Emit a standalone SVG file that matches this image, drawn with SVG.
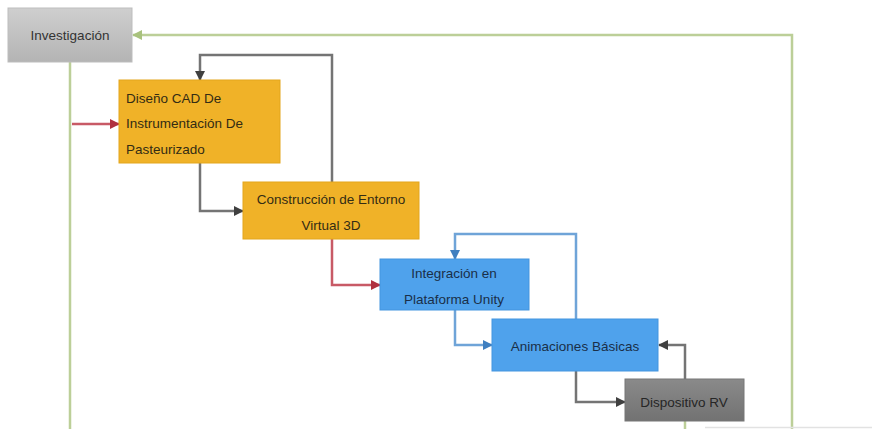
<svg xmlns="http://www.w3.org/2000/svg" width="872" height="429" viewBox="0 0 872 429">
<style>
  text { font-family: "Liberation Sans", "DejaVu Sans", sans-serif; font-size: 13.5px; fill: #332c14; }
  .c { text-anchor: middle; }
  .orange { fill: #f0b228; stroke: #e3a61c; stroke-width: 1; }
  .blue { fill: #4fa2ec; stroke: #4495df; stroke-width: 1; }
  .blue-t { fill: #1a2f48; }
  .lgray { fill: url(#gInv); stroke: #bdbdbd; stroke-width: 1; }
  .dgray { fill: url(#gDisp); stroke: #777; stroke-width: 1; }
  .dgray-t { fill: #262626; }
  .ln { fill: none; stroke-width: 2.5; }
  .green { stroke: #bccf98; }
  .red { stroke: #c85a66; marker-end: url(#aRed); }
  .gray { stroke: #747474; marker-end: url(#aGray); }
  .bl { stroke: #6fa4d8; marker-end: url(#aBlue); }
</style>
<defs>
  <linearGradient id="gInv" x1="0" y1="0" x2="0" y2="1">
    <stop offset="0" stop-color="#cfcfcf"/>
    <stop offset="1" stop-color="#b4b4b4"/>
  </linearGradient>
  <linearGradient id="gDisp" x1="0" y1="0" x2="0" y2="1">
    <stop offset="0" stop-color="#8a8a8a"/>
    <stop offset="1" stop-color="#727272"/>
  </linearGradient>
  <marker id="aRed" viewBox="0 0 10 10" refX="9" refY="5" markerWidth="4" markerHeight="4" orient="auto" markerUnits="strokeWidth">
    <path d="M0,0 L10,5 L0,10 z" fill="#b03040"/>
  </marker>
  <marker id="aGray" viewBox="0 0 10 10" refX="9" refY="5" markerWidth="4" markerHeight="4" orient="auto" markerUnits="strokeWidth">
    <path d="M0,0 L10,5 L0,10 z" fill="#404040"/>
  </marker>
  <marker id="aBlue" viewBox="0 0 10 10" refX="9" refY="5" markerWidth="4" markerHeight="4" orient="auto" markerUnits="strokeWidth">
    <path d="M0,0 L10,5 L0,10 z" fill="#3f7fc0"/>
  </marker>
  <marker id="aGreen" viewBox="0 0 10 10" refX="9" refY="5" markerWidth="4" markerHeight="4" orient="auto" markerUnits="strokeWidth">
    <path d="M0,0 L10,5 L0,10 z" fill="#a9c27e"/>
  </marker>
</defs>
<rect width="872" height="429" fill="#ffffff"/>

<g id="connectors">
  <path class="ln green" d="M70,62 V429"/>
  <path class="ln green" d="M792,429 V35 H133" marker-end="url(#aGreen)"/>
  <path class="ln green" d="M685,421 V429"/>
  <path d="M705,427.5 H872" stroke="#e2e2e2" stroke-width="1.5" fill="none"/>
  <path class="ln red" d="M72,124 H119"/>
  <path class="ln gray" d="M332,182 V55 H200 V80"/>
  <path class="ln gray" d="M200,163 V211 H243"/>
  <path class="ln red" d="M332,239 V285 H380"/>
  <path class="ln bl" d="M576,319 V234 H455 V259"/>
  <path class="ln bl" d="M455,310 V345 H492"/>
  <path class="ln gray" d="M576,371 V402 H625"/>
  <path class="ln gray" d="M685,379 V345 H659"/>
</g>

<g id="investigacion">
  <rect class="lgray" x="8" y="8" width="124" height="54"/>
  <text class="c" x="70" y="40" style="fill:#333333">Investigación</text>
</g>

<g id="diseno">
  <rect class="orange" x="119" y="80" width="161" height="83"/>
  <text x="126" y="103">Diseño CAD De</text>
  <text x="126" y="128">Instrumentación De</text>
  <text x="126" y="154">Pasteurizado</text>
</g>

<g id="construccion">
  <rect class="orange" x="243" y="182" width="176" height="57"/>
  <text class="c" x="331" y="204">Construcción de Entorno</text>
  <text class="c" x="331" y="230">Virtual 3D</text>
</g>

<g id="integracion">
  <rect class="blue" x="380" y="259" width="149" height="51"/>
  <text class="c blue-t" x="454" y="278">Integración en</text>
  <text class="c blue-t" x="454" y="304">Plataforma Unity</text>
</g>

<g id="animaciones">
  <rect class="blue" x="492" y="319" width="166" height="52"/>
  <text class="c blue-t" x="575" y="351">Animaciones Básicas</text>
</g>

<g id="dispositivo">
  <rect class="dgray" x="625" y="379" width="119" height="42"/>
  <text class="c dgray-t" x="684" y="407">Dispositivo RV</text>
</g>
</svg>
